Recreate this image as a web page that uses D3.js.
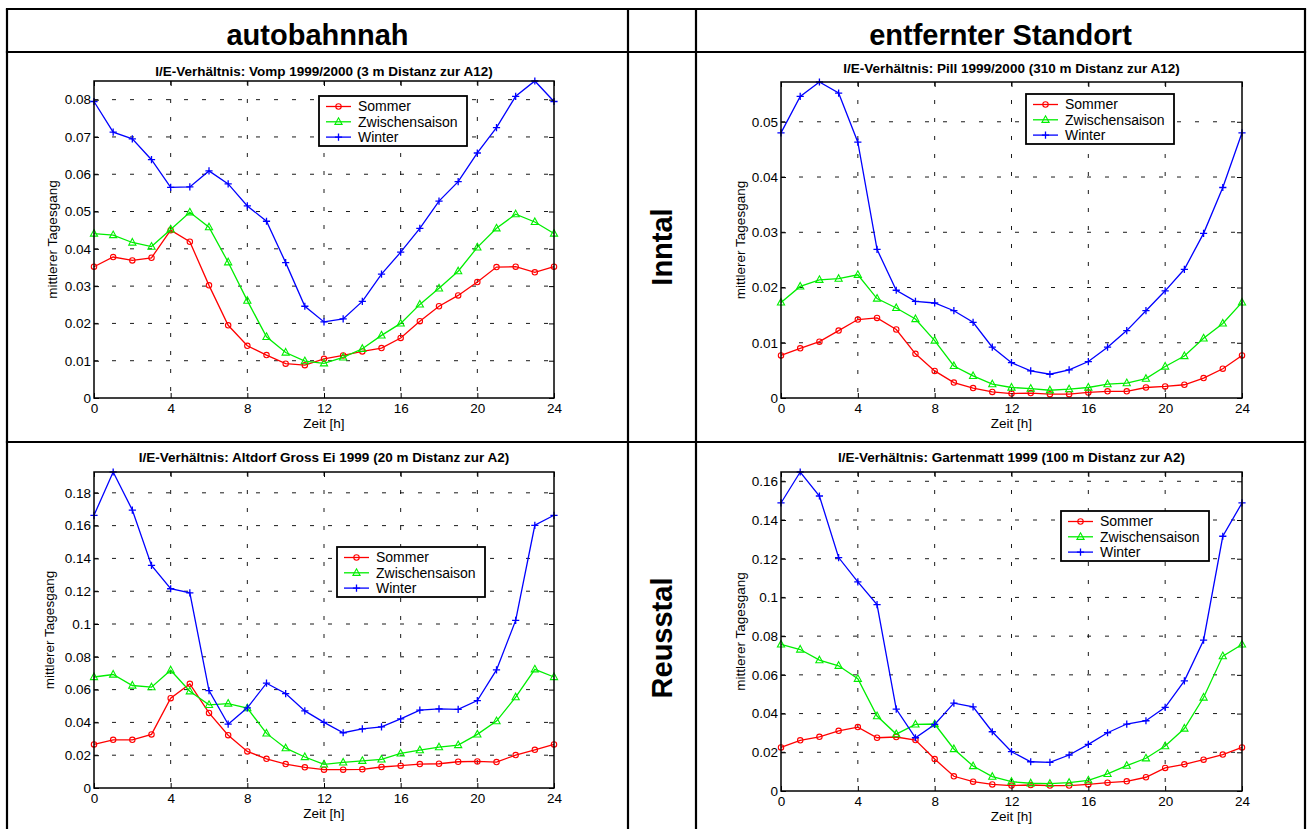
<!DOCTYPE html>
<html lang="de">
<head>
<meta charset="utf-8">
<title>I/E-Verhältnis – mittlerer Tagesgang</title>
<script src="https://cdnjs.cloudflare.com/ajax/libs/d3/7.8.5/d3.min.js"></script>
<style>
  body { margin: 0; background: #fff; }
  svg { font-family: "Liberation Sans", Arial, Helvetica, sans-serif; }
  .cell { stroke: #000; stroke-width: 2.2; }
  .head { font-size: 29px; font-weight: bold; }
  .ptitle { font-size: 13.5px; font-weight: bold; }
  .small { font-size: 13.5px; }
  .legtext { font-size: 14px; }
  .grid line { stroke: #000; stroke-width: 0.9; stroke-dasharray: 4,14; }
  .frame { fill: none; stroke: #000; stroke-width: 1.5; }
</style>
</head>
<body>
<svg id="chart" width="1308" height="829"></svg>
<script>
// ---- data ----
const hours = [0,1,2,3,4,5,6,7,8,9,10,11,12,13,14,15,16,17,18,19,20,21,22,23,24];
const seriesNames = ["Sommer", "Zwischensaison", "Winter"];
const xTicks = [0, 4, 8, 12, 16, 20, 24];

// Vomp 1999/2000
const vompSommer = [0.0352,0.0378,0.0369,0.0376,0.0450,0.0419,0.0302,0.0195,0.0140,0.0115,0.0092,0.0088,0.0105,
  0.0114,0.0125,0.0134,0.0161,0.0206,0.0246,0.0275,0.0311,0.0351,0.0352,0.0337,0.0352];
const vompZwischen = [0.0441,0.0437,0.0417,0.0406,0.0452,0.0498,0.0458,0.0364,0.0261,0.0164,0.0122,0.0099,0.0093,
  0.0109,0.0132,0.0168,0.0200,0.0251,0.0294,0.0340,0.0404,0.0455,0.0493,0.0472,0.0441];
const vompWinter = [0.0795,0.0713,0.0695,0.0639,0.0565,0.0566,0.0609,0.0574,0.0515,0.0474,0.0363,0.0246,0.0204,
  0.0212,0.0259,0.0332,0.0391,0.0455,0.0528,0.0580,0.0657,0.0725,0.0809,0.0850,0.0795];
const vompYTicks = [0, 0.01, 0.02, 0.03, 0.04, 0.05, 0.06, 0.07, 0.08];

// Pill 1999/2000
const pillSommer = [0.0077,0.0090,0.0102,0.0122,0.0142,0.0145,0.0124,0.0080,0.0049,0.0028,0.0018,0.0011,0.0008,
  0.0009,0.0007,0.0007,0.0010,0.0012,0.0012,0.0019,0.0021,0.0024,0.0036,0.0053,0.0077];
const pillZwischen = [0.0173,0.0202,0.0214,0.0216,0.0223,0.0180,0.0163,0.0143,0.0104,0.0058,0.0040,0.0025,0.0019,
  0.0017,0.0014,0.0016,0.0019,0.0025,0.0027,0.0035,0.0057,0.0076,0.0108,0.0135,0.0173];
const pillWinter = [0.0480,0.0546,0.0572,0.0552,0.0463,0.0269,0.0195,0.0175,0.0172,0.0158,0.0137,0.0092,0.0064,
  0.0049,0.0043,0.0051,0.0066,0.0092,0.0122,0.0158,0.0194,0.0233,0.0298,0.0381,0.0480];
const pillYTicks = [0, 0.01, 0.02, 0.03, 0.04, 0.05];

// Altdorf Gross Ei 1999
const altdorfSommer = [0.0266,0.0294,0.0294,0.0327,0.0548,0.0635,0.0458,0.0322,0.0223,0.0178,0.0146,0.0126,0.0112,
  0.0112,0.0114,0.0128,0.0136,0.0146,0.0148,0.0160,0.0162,0.0158,0.0201,0.0233,0.0266];
const altdorfZwischen = [0.0677,0.0692,0.0625,0.0615,0.0718,0.0590,0.0507,0.0515,0.0487,0.0333,0.0243,0.0189,0.0144,
  0.0156,0.0166,0.0174,0.0211,0.0231,0.0249,0.0262,0.0327,0.0408,0.0554,0.0724,0.0677];
const altdorfWinter = [0.1663,0.1927,0.1695,0.1357,0.1215,0.1190,0.0594,0.0389,0.0489,0.0639,0.0576,0.0470,0.0400,
  0.0337,0.0361,0.0373,0.0422,0.0475,0.0483,0.0479,0.0533,0.0720,0.1022,0.1602,0.1663];
const altdorfYTicks = [0, 0.02, 0.04, 0.06, 0.08, 0.1, 0.12, 0.14, 0.16, 0.18];

// Gartenmatt 1999
const gartenSommer = [0.0225,0.0262,0.0280,0.0311,0.0330,0.0275,0.0279,0.0263,0.0165,0.0076,0.0048,0.0034,0.0028,
  0.0031,0.0028,0.0028,0.0034,0.0043,0.0050,0.0071,0.0119,0.0138,0.0162,0.0188,0.0225];
const gartenZwischen = [0.0757,0.0731,0.0676,0.0647,0.0580,0.0387,0.0294,0.0344,0.0346,0.0217,0.0129,0.0074,0.0048,
  0.0040,0.0038,0.0043,0.0055,0.0088,0.0131,0.0169,0.0232,0.0323,0.0483,0.0697,0.0757];
const gartenWinter = [0.1488,0.1648,0.1524,0.1206,0.1080,0.0963,0.0423,0.0275,0.0344,0.0454,0.0435,0.0306,0.0203,
  0.0151,0.0148,0.0186,0.0241,0.0301,0.0346,0.0363,0.0432,0.0569,0.0779,0.1316,0.1488];
const gartenYTicks = [0, 0.02, 0.04, 0.06, 0.08, 0.1, 0.12, 0.14, 0.16];

const colHeads = ["autobahnnah", "entfernter Standort"];
const rowHeads = ["Inntal", "Reusstal"];

// ---- layout ----
const colors = ["#ff0000", "#00ee00", "#0000ff"];
const panels = [
  { title: "I/E-Verhältnis: Vomp 1999/2000 (3 m Distanz zur A12)",
    series: [vompSommer, vompZwischen, vompWinter], yTicks: vompYTicks,
    x0: 94, x1: 554, y0: 81, y1: 398, ty: 71, lx: 52, leg: [319, 96] },
  { title: "I/E-Verhältnis: Pill 1999/2000 (310 m Distanz zur A12)",
    series: [pillSommer, pillZwischen, pillWinter], yTicks: pillYTicks,
    x0: 781, x1: 1242, y0: 82, y1: 398, ty: 68, lx: 740, leg: [1026, 94] },
  { title: "I/E-Verhältnis: Altdorf Gross Ei 1999 (20 m Distanz zur A2)",
    series: [altdorfSommer, altdorfZwischen, altdorfWinter], yTicks: altdorfYTicks,
    x0: 94, x1: 554, y0: 472, y1: 788, ty: 457, lx: 49, leg: [337, 547] },
  { title: "I/E-Verhältnis: Gartenmatt 1999 (100 m Distanz zur A2)",
    series: [gartenSommer, gartenZwischen, gartenWinter], yTicks: gartenYTicks,
    x0: 781, x1: 1242, y0: 472, y1: 791, ty: 457, lx: 740, leg: [1061, 511] }
];

const svg = d3.select("#chart");

// table frame
const vx = [7, 628, 696, 1305];
const hy = [9, 52, 442];
hy.forEach(y => svg.append("line").attr("class", "cell")
  .attr("x1", vx[0] - 1.1).attr("x2", vx[3] + 1.1).attr("y1", y).attr("y2", y));
vx.forEach(x => svg.append("line").attr("class", "cell")
  .attr("x1", x).attr("x2", x).attr("y1", hy[0]).attr("y2", 829));

svg.append("text").attr("class", "head").attr("text-anchor", "middle")
  .attr("x", (vx[0] + vx[1]) / 2).attr("y", 45).text(colHeads[0]);
svg.append("text").attr("class", "head").attr("text-anchor", "middle")
  .attr("x", (vx[2] + vx[3]) / 2).attr("y", 45).text(colHeads[1]);
[247, 638].forEach((cy, i) => {
  svg.append("text").attr("class", "head").attr("text-anchor", "middle")
    .attr("transform", `translate(${(vx[1] + vx[2]) / 2},${cy}) rotate(-90)`)
    .attr("dy", "0.36em").text(rowHeads[i]);
});

const fmt = d => d === 0 ? "0" : String(+d.toFixed(3));

function marker(g, i, px, py) {
  const c = colors[i];
  if (i === 0) {
    g.append("circle").attr("cx", px).attr("cy", py).attr("r", 2.7)
      .attr("fill", "none").attr("stroke", c).attr("stroke-width", 1.1);
  } else if (i === 1) {
    g.append("path").attr("d", `M${px},${py - 4}L${px + 3.6},${py + 2.6}L${px - 3.6},${py + 2.6}Z`)
      .attr("fill", "none").attr("stroke", c).attr("stroke-width", 1.1);
  } else {
    g.append("path").attr("d", `M${px - 3.6},${py}H${px + 3.6}M${px},${py - 3.6}V${py + 3.6}`)
      .attr("stroke", c).attr("stroke-width", 1.3);
  }
}

panels.forEach(p => {
  const ymax = d3.max(p.series.flat());
  const x = d3.scaleLinear().domain([0, 24]).range([p.x0, p.x1]);
  const y = d3.scaleLinear().domain([0, ymax]).range([p.y1, p.y0]);
  const g = svg.append("g");

  g.append("text").attr("class", "ptitle").attr("text-anchor", "middle")
    .attr("x", (p.x0 + p.x1) / 2).attr("y", p.ty + 5).text(p.title);

  // grid
  const grid = g.append("g").attr("class", "grid");
  grid.selectAll(".gx").data(xTicks.filter(t => t > 0 && t < 24)).join("line")
    .attr("x1", d => x(d)).attr("x2", d => x(d)).attr("y1", p.y0).attr("y2", p.y1);
  grid.selectAll(".gy").data(p.yTicks.filter(t => t > 0 && t < ymax)).join("line")
    .attr("x1", p.x0).attr("x2", p.x1).attr("y1", d => y(d)).attr("y2", d => y(d));

  // series
  const line = d3.line().x((d, i) => x(hours[i])).y(d => y(d));
  p.series.forEach((s, i) => {
    g.append("path").datum(s).attr("d", line)
      .attr("fill", "none").attr("stroke", colors[i]).attr("stroke-width", 1.3);
    s.forEach((v, k) => marker(g, i, x(hours[k]), y(v)));
  });

  g.append("rect").attr("class", "frame")
    .attr("x", p.x0).attr("y", p.y0).attr("width", p.x1 - p.x0).attr("height", p.y1 - p.y0);

  // axes with inside ticks (MATLAB style)
  const styleAxis = a => {
    a.select(".domain").remove();
    a.selectAll("line").attr("stroke", "#000");
    a.selectAll("text").attr("font-size", 13.5).attr("font-family", null).attr("fill", "#000");
  };
  g.append("g").attr("transform", `translate(0,${p.y1})`)
    .call(d3.axisBottom(x).tickValues(xTicks).tickSizeInner(-5).tickSizeOuter(0).tickPadding(5))
    .call(styleAxis);
  g.append("g").attr("transform", `translate(0,${p.y0})`)
    .call(d3.axisTop(x).tickValues(xTicks).tickSizeInner(-5).tickSizeOuter(0).tickFormat(""))
    .call(styleAxis);
  g.append("g").attr("transform", `translate(${p.x0},0)`)
    .call(d3.axisLeft(y).tickValues(p.yTicks).tickFormat(fmt).tickSizeInner(-5).tickSizeOuter(0).tickPadding(3))
    .call(styleAxis);
  g.append("g").attr("transform", `translate(${p.x1},0)`)
    .call(d3.axisRight(y).tickValues(p.yTicks).tickSizeInner(-5).tickSizeOuter(0).tickFormat(""))
    .call(styleAxis);

  g.append("text").attr("class", "small").attr("text-anchor", "middle")
    .attr("x", (p.x0 + p.x1) / 2).attr("y", p.y1 + 30).text("Zeit [h]");
  g.append("text").attr("class", "small").attr("text-anchor", "middle")
    .attr("transform", `translate(${p.lx},${(p.y0 + p.y1) / 2}) rotate(-90)`)
    .attr("dy", "0.35em").text("mittlerer Tagesgang");

  // legend
  const [lx, ly] = p.leg;
  const leg = g.append("g");
  leg.append("rect").attr("x", lx).attr("y", ly).attr("width", 148).attr("height", 50)
    .attr("fill", "#fff").attr("stroke", "#000").attr("stroke-width", 1.8);
  seriesNames.forEach((n, i) => {
    const ry = ly + 10.5 + i * 15.3;
    leg.append("line").attr("x1", lx + 7).attr("x2", lx + 32).attr("y1", ry).attr("y2", ry)
      .attr("stroke", colors[i]).attr("stroke-width", 1.3);
    marker(leg, i, lx + 19.5, ry);
    leg.append("text").attr("class", "legtext").attr("x", lx + 39).attr("y", ry).attr("dy", "0.35em").text(n);
  });
});
</script>
</body>
</html>
